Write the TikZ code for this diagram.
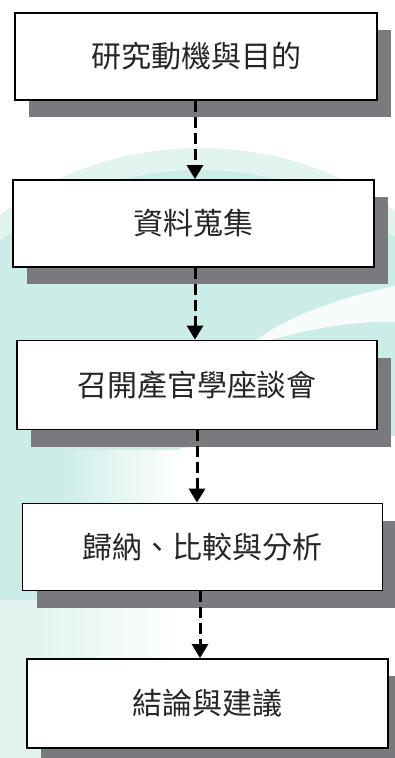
\documentclass[tikz,border=0pt]{standalone}
\usepackage{fontspec}
\newfontfamily\cjk{Noto Sans CJK TC}
\usetikzlibrary{shadows,arrows.meta}
\definecolor{bgteal}{RGB}{204,237,231}
\definecolor{bgteal2}{RGB}{226,244,240}
\definecolor{shadowgray}{RGB}{122,122,126}
\tikzset{
  stepbox/.style={draw=black, line width=1.8pt, fill=white, minimum height=87pt,
    inner sep=0pt, font=\cjk\fontsize{30}{30}\selectfont, text=black!85,
    drop shadow={shadow xshift=14pt, shadow yshift=-17pt, fill=shadowgray, opacity=1}},
  flow/.style={line width=3pt, dash pattern=on 11pt off 5pt,
    -{Triangle[width=16pt,length=14pt]}}
}
\begin{document}
\begin{tikzpicture}[x=1pt,y=-1pt]
\clip (0,0) rectangle (395,758);
\fill[white] (0,0) rectangle (395,758);
% background watermark
\fill[bgteal2] (200,410) ellipse [x radius=300, y radius=262];
\fill[bgteal] (200,420) ellipse [x radius=285, y radius=250];
\fill[white] (180,448) -- (395,436) -- (395,758) -- (180,758) -- cycle;
\shade[left color=bgteal, right color=white] (60,450) rectangle (180,600);
\fill[bgteal2] (0,600) rectangle (40,758);
\shade[left color=bgteal2, right color=white] (40,600) rectangle (180,758);
\fill[white, opacity=0.85] (395,286) .. controls (330,300) and (280,320) .. (250,345)
  .. controls (290,335) and (340,320) .. (395,322) -- cycle;
% boxes
\node[stepbox, minimum width=362pt] (b1) at (196,56.5) {研究動機與目的};
\node[stepbox, minimum width=361pt] (b2) at (193.5,223.5) {資料蒐集};
\node[stepbox, minimum width=360pt, minimum height=89pt] (b3) at (197,385) {召開產官學座談會};
\node[stepbox, minimum width=360pt] (b4) at (202.5,547) {歸納、比較與分析};
\node[stepbox, minimum width=361pt, minimum height=89pt] (b5) at (207.5,703.5) {結論與建議};
% connectors
\draw[flow] ([xshift=-1pt]b1.south) -- ([xshift=-1pt]b1.south |- b2.north);
\draw[flow] ([xshift=1.5pt]b2.south) -- ([xshift=1.5pt]b2.south |- b3.north);
\draw[flow] (b3.south) -- (b3.south |- b4.north);
\draw[flow] ([xshift=-2.5pt]b4.south) -- ([xshift=-2.5pt]b4.south |- b5.north);
\end{tikzpicture}
\end{document}
